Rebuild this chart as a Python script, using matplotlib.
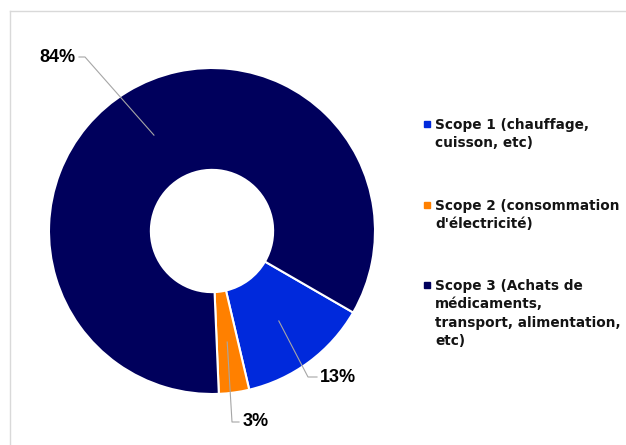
import matplotlib.pyplot as plt
import numpy as np
from matplotlib.patches import Rectangle

# data
labels = ["Scope 1 (chauffage,\ncuisson, etc)",
          "Scope 2 (consommation\nd'électricité)",
          "Scope 3 (Achats de\nmédicaments,\ntransport, alimentation,\netc)"]
values = [13, 3, 84]
colors = ["#0029DC", "#FF8000", "#00005C"]

W, H = 626, 445


def fy(y):
    '''image y (top-down) -> axes y (bottom-up)'''
    return H - y


fig = plt.figure(figsize=(W / 100, H / 100), dpi=100)
ax = fig.add_axes([0, 0, 1, 1])

cx, cy, r = 212, 231, 163
wedges, _ = ax.pie(values, colors=colors, startangle=-30, counterclock=False,
                   radius=r, center=(cx, fy(cy)),
                   wedgeprops=dict(width=r * 0.625, edgecolor="white", linewidth=1.5))
ax.set_xlim(0, W)
ax.set_ylim(0, H)
ax.set_aspect("equal")
ax.set_axis_off()

# percent labels with leader lines: (text x, text y, ha, elbow x, end x)
label_pos = [(320, 377, "left", 308, 317),
             (243, 422, "left", 232, 239),
             (75, 57, "right", 85, 79)]
for w, v, (tx, ty, ha, ex, endx) in zip(wedges, values, label_pos):
    mid = np.deg2rad((w.theta1 + w.theta2) / 2)
    rm = r - r * 0.625 / 2
    px, py = cx + rm * np.cos(mid), fy(cy) + rm * np.sin(mid)
    ax.plot([px, ex, endx], [py, fy(ty), fy(ty)], color="#A6A6A6", lw=0.8)
    ax.text(tx, fy(ty), f"{v}%", ha=ha, va="center", fontsize=13,
            fontweight="bold", family="Liberation Sans")

# legend
leg_y = [124, 205, 285]
for lab, col, y in zip(labels, colors, leg_y):
    ax.add_patch(Rectangle((424, fy(y + 3)), 6, 6, color=col))
    ax.text(435, fy(y - 6), lab, ha="left", va="top", fontsize=9.8,
            fontweight="bold", linespacing=1.4, color="#141414")

# frame
ax.plot([9.5, 9.5], [fy(11), 0], color="#D9D9D9", lw=1)
ax.plot([9.5, W], [fy(11), fy(11)], color="#D9D9D9", lw=1)

fig.savefig("out.png", dpi=100)
